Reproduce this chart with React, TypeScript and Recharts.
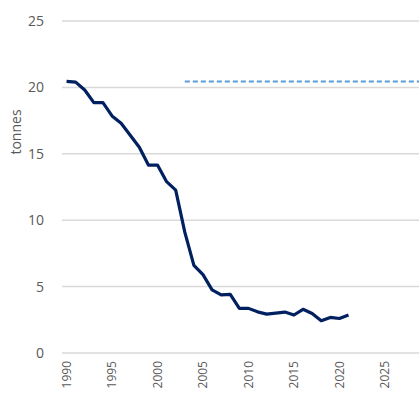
import React from "react";
import { CartesianGrid, Line, LineChart, XAxis, YAxis } from "recharts";

const years = [
  1990, 1991, 1992, 1993, 1994, 1995, 1996, 1997, 1998, 1999, 2000, 2001, 2002, 2003, 2004, 2005,
  2006, 2007, 2008, 2009, 2010, 2011, 2012, 2013, 2014, 2015, 2016, 2017, 2018, 2019, 2020, 2021,
  2022, 2023, 2024, 2025, 2026, 2027, 2028, 2029,
];

const emissions = [
  20.45, 20.4, 19.8, 18.85, 18.85, 17.85, 17.3, 16.4, 15.5, 14.15, 14.15, 12.9, 12.27, 9.1, 6.6,
  5.9, 4.75, 4.37, 4.42, 3.36, 3.36, 3.1, 2.93, 3.0, 3.08, 2.86, 3.29, 2.98, 2.43, 2.68, 2.6, 2.86,
];

const targetStart = 2003;
const targetValue = 20.45;

const yTicks = [0, 5, 10, 15, 20, 25];
const xTicks = [1990, 1995, 2000, 2005, 2010, 2015, 2020, 2025];

const data = years.map((year, i) => ({
  year,
  value: i < emissions.length ? emissions[i] : null,
  target: year >= targetStart ? targetValue : null,
}));

const FONT = "'Open Sans', 'Liberation Sans', sans-serif";

function YearTick(props: any) {
  const { x, y, payload } = props;
  return (
    <text
      x={x}
      y={y}
      transform={`rotate(-90, ${x}, ${y})`}
      textAnchor="end"
      dy="0.35em"
      fill="#595959"
      fontSize={12}
      fontFamily={FONT}
    >
      {payload.value}
    </text>
  );
}

function App() {
  return (
    <div style={{ position: "absolute", left: 0, top: 0 }}>
      <LineChart width={419} height={394} data={data} margin={{ top: 21, right: 0, bottom: 0, left: 0 }}>
        <CartesianGrid vertical={false} stroke="#d9d9d9" strokeWidth={1.5} />
        <XAxis
          dataKey="year"
          type="number"
          domain={[1989.5, 2028.75]}
          allowDataOverflow
          ticks={xTicks}
          tick={<YearTick />}
          tickLine={false}
          axisLine={false}
          height={41}
          tickMargin={2}
          interval={0}
        />
        <YAxis
          domain={[0, 25]}
          ticks={yTicks}
          width={62}
          tickLine={false}
          axisLine={false}
          tick={{ fill: "#595959", fontSize: 14, fontFamily: FONT }}
          tickMargin={12}
          label={{
            content: () => (
              <text
                x={16}
                y={132}
                transform="rotate(-90, 16, 132)"
                textAnchor="middle"
                dy="0.35em"
                fill="#595959"
                fontSize={14}
                fontFamily={FONT}
              >
                tonnes
              </text>
            ),
          }}
        />
        <Line
          dataKey="target"
          stroke="#5b9bd5"
          strokeWidth={2}
          strokeDasharray="5 3"
          dot={false}
          isAnimationActive={false}
        />
        <Line
          dataKey="value"
          stroke="#002060"
          strokeWidth={3.2}
          dot={false}
          strokeLinejoin="round"
          isAnimationActive={false}
        />
      </LineChart>
    </div>
  );
}

export default App;
